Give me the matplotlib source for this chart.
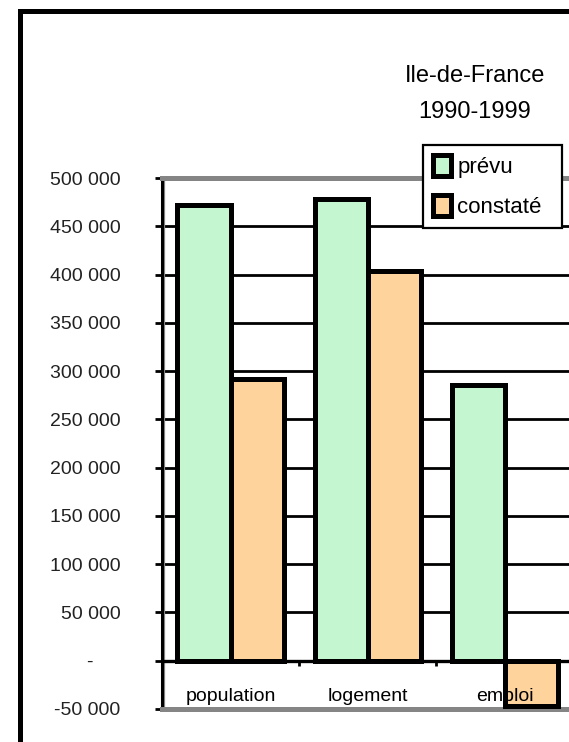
import matplotlib
matplotlib.use('Agg')
import matplotlib.pyplot as plt
from matplotlib.lines import Line2D
from matplotlib.transforms import offset_copy
import numpy as np

# donnees Ile-de-France 1990-1999
categories = ['population', 'logement', 'emploi']
prevu = [472000, 478000, 286000]
constate = [292000, 404000, -47000]
yticks = [-50000, 0, 50000, 100000, 150000, 200000, 250000, 300000, 350000, 400000, 450000, 500000]
ytick_labels = ['-50 000', '-     ', '50 000', '100 000', '150 000', '200 000', '250 000',
                '300 000', '350 000', '400 000', '450 000', '500 000']

vert = '#C4F7CF'
orange = '#FFD49C'
gris = '#858585'

plt.rcParams['font.family'] = ['Liberation Sans', 'DejaVu Sans']

fig = plt.figure(figsize=(5.69, 7.42), dpi=100)
ax = fig.add_axes([0.2847, 0.0445, 0.7226, 0.7156])

x = np.arange(len(categories))
w = 0.387
ax.bar(x - w / 2, prevu, w, color=vert, edgecolor='black', linewidth=3.6, zorder=3, label='prévu')
ax.bar(x + w / 2, constate, w, color=orange, edgecolor='black', linewidth=3.6, zorder=3, label='constaté')

ax.set_xlim(-0.5, 2.5)
ax.set_ylim(-50000, 500000)
ax.set_yticks(yticks)
ax.set_yticklabels(ytick_labels, fontsize=14, color='#222222')
ax.tick_params(axis='y', length=5, width=2, pad=25, direction='out')
ax.set_xticks([])

# quadrillage noir
for v in yticks[2:-1]:
    ax.axhline(v, color='black', lw=2, zorder=1)
ax.axhline(0, color='black', lw=2.4, zorder=2)
ax.vlines([0.5, 1.5], -5000, 0, color='black', lw=2, zorder=2)

for s in ['top', 'bottom']:
    ax.spines[s].set_color(gris)
    ax.spines[s].set_linewidth(3.6)
ax.spines['right'].set_visible(False)
ax.spines['left'].set_color('black')
ax.spines['left'].set_linewidth(2.2)
trans = offset_copy(ax.get_xaxis_transform(), fig=fig, x=2.5, y=0, units='dots')
ax.plot([-0.5, -0.5], [0, 1], transform=trans, color=gris, lw=1.6, clip_on=False, zorder=1)

for i, c in enumerate(categories):
    ax.text(i, -41500, c, ha='center', va='baseline', fontsize=14, zorder=5)

fig.text(475 / 569, 1 - 76 / 742, 'Ile-de-France', ha='center', va='center', fontsize=17)
fig.text(475 / 569, 1 - 112 / 742, '1990-1999', ha='center', va='center', fontsize=17)

leg = fig.legend(loc='upper left', bbox_to_anchor=(0.743, 0.690, 0.245, 0.1146), mode='expand',
                 borderaxespad=0, fontsize=16, handlelength=0.8, handleheight=1.1,
                 handletextpad=0.3, labelspacing=0.75, borderpad=0.45, fancybox=False,
                 framealpha=1, edgecolor='black')
leg.get_frame().set_linewidth(1.6)

# cadre
fig.add_artist(Line2D([0.036, 0.036], [0, 0.9858], transform=fig.transFigure, color='black', lw=3.6))
fig.add_artist(Line2D([0.036, 1.0], [0.9858, 0.9858], transform=fig.transFigure, color='black', lw=3.6))

fig.savefig('out.png', dpi=100)
